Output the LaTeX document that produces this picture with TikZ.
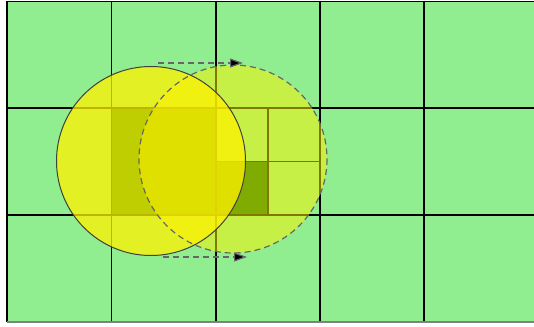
\documentclass[tikz,border=0pt]{standalone}
\usetikzlibrary{arrows.meta}
\definecolor{cellgreen}{RGB}{144,238,144}
\definecolor{hitgreen}{RGB}{0,100,0}
\tikzset{
  gridline/.style={line width=1.6pt, draw=black},
  subline/.style={line width=1.6pt, draw=black},
  hitcell/.style={fill=hitgreen},
  oldcirc/.style={fill=yellow, fill opacity=0.75},
  newcirc/.style={fill=yellow, fill opacity=0.5},
  oldrim/.style={draw=black!75, line width=1pt},
  newrim/.style={draw=black!60, line width=1.2pt, dash pattern=on 6pt off 4pt},
  moveflow/.style={draw=black!60, line width=1.2pt, dash pattern=on 6pt off 4pt,
    -{Triangle[length=13pt,width=9pt,fill=black]}},
}
\begin{document}
\begin{tikzpicture}[x=1pt, y=-1pt]
  \useasboundingbox (0,0) rectangle (534,326);
  \fill[white] (0,0) rectangle (534,326);
  % grid of cells
  \fill[cellgreen] (7,1.5) rectangle (534,322);
  \fill[hitcell] (111.5,108) rectangle (216,215);
  \fill[hitcell] (216,161.5) rectangle (268,215);
  \foreach \x in {7,111.5,216,320,424}
    \draw[gridline] (\x,1.5) -- (\x,322);
  \foreach \y in {1.5,108,215}
    \draw[gridline] (7,\y) -- (534,\y);
  \draw[gridline, draw=black!50] (7,322) -- (534,322);
  % split of the boundary cell
  \draw[subline] (268,108) -- (268,215);
  \draw[subline] (216,161.5) -- (320,161.5);
  % object before and after the move
  \coordinate (oldc) at (151,161);
  \coordinate (newc) at (233,159);
  \fill[newcirc] (newc) circle[radius=94];
  \fill[oldcirc] (oldc) circle[radius=94.5];
  \draw[oldrim] (oldc) circle[radius=94.5];
  \draw[newrim] (newc) circle[radius=94];
  % movement
  \coordinate (topa) at (158,63);
  \coordinate (topb) at (243,63);
  \coordinate (bota) at (163,257);
  \coordinate (botb) at (247,257);
  \draw[moveflow] (topa) -- (topb);
  \draw[moveflow] (bota) -- (botb);
\end{tikzpicture}
\end{document}
